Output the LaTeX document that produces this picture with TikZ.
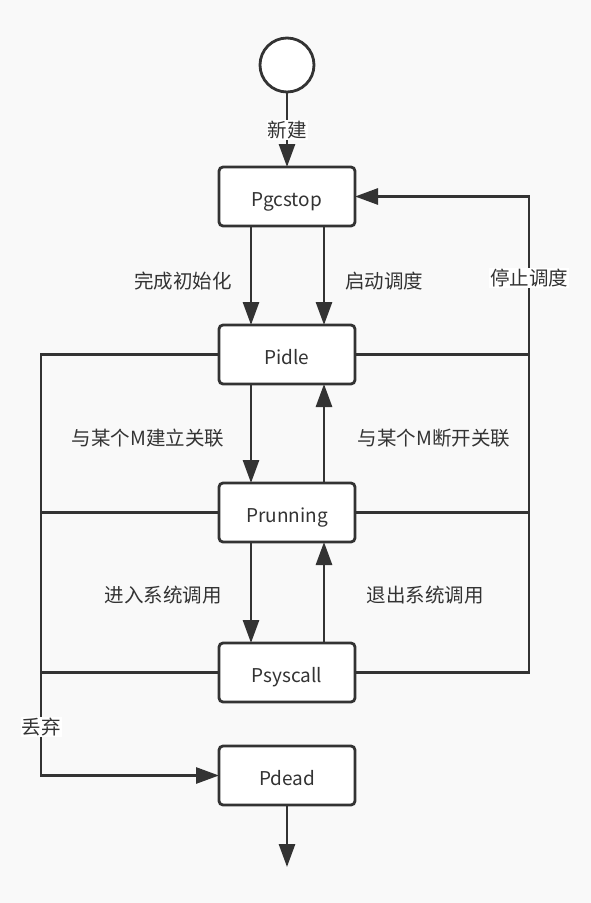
\documentclass[tikz,border=0pt]{standalone}
\usepackage{fontspec}
\setmainfont{Noto Sans CJK SC}
\usetikzlibrary{positioning,arrows.meta}
\definecolor{ink}{RGB}{51,51,51}
\definecolor{paper}{RGB}{249,249,249}
\tikzset{
  state/.style={draw=ink,line width=2.8pt,rounded corners=4pt,fill=white,outer sep=0pt,
    minimum width=136pt,minimum height=59pt,text height=20pt,text depth=0pt,
    text=ink,font=\fontsize{19}{21}\selectfont},
  tag/.style={text=ink,inner sep=1pt,font=\fontsize{19.5}{21}\selectfont},
  ontag/.style={tag,fill=white},
  wire/.style={draw=ink,line width=2.8pt},
  go/.style={wire,-{Triangle[length=23pt,width=16pt]}}
}
\begin{document}
\begin{tikzpicture}[x=1pt,y=-1pt]
  \fill[paper] (0,0) rectangle (591,903);
  \useasboundingbox (0,0) rectangle (591,903);

  \node[draw=ink,line width=2.8pt,circle,fill=white,outer sep=0pt,minimum size=54pt] (start) at (287,65) {};
  \node[state] (Pgcstop) at (287,196.5) {Pgcstop};
  \node[state,below=99pt of Pgcstop] (Pidle) {Pidle};
  \node[state,below=99pt of Pidle] (Prunning) {Prunning};
  \node[state,below=101pt of Prunning] (Psyscall) {Psyscall};
  \node[state,below=44pt of Psyscall] (Pdead) {Pdead};

  \coordinate (left) at (41,354);
  \coordinate (right) at (529,196.5);
  \coordinate (end) at (287,867);

  \draw[go] (start) -- (Pgcstop);
  \node[ontag] at (287,130) {新建};

  \draw[go] ([xshift=-36pt]Pgcstop.south) -- ([xshift=-36pt]Pidle.north);
  \draw[go] ([xshift=37pt]Pgcstop.south) -- ([xshift=37pt]Pidle.north);
  \draw[go] ([xshift=-36pt]Pidle.south) -- ([xshift=-36pt]Prunning.north);
  \draw[go] ([xshift=37pt]Prunning.north) -- ([xshift=37pt]Pidle.south);
  \draw[go] ([xshift=-36pt]Prunning.south) -- ([xshift=-36pt]Psyscall.north);
  \draw[go] ([xshift=37pt]Psyscall.north) -- ([xshift=37pt]Prunning.south);

  \draw[go] (Pidle.west) -- (Pidle.west -| left) -- (Pdead.west -| left) -- (Pdead.west);
  \draw[wire] (Prunning.west) -- (Prunning.west -| left);
  \draw[wire] (Psyscall.west) -- (Psyscall.west -| left);

  \draw[wire] (Pidle.east) -- (Pidle.east -| right);
  \draw[wire] (Prunning.east) -- (Prunning.east -| right);
  \draw[go] (Psyscall.east) -- (Psyscall.east -| right) -- (right) -- (Pgcstop.east);

  \draw[go] (Pdead) -- (end);

  \node[tag] at (183,281) {完成初始化};
  \node[tag] at (384,281) {启动调度};
  \node[ontag] at (529,278) {停止调度};
  \node[tag] at (148,438) {与某个M建立关联};
  \node[tag] at (434,438) {与某个M断开关联};
  \node[tag] at (163,595) {进入系统调用};
  \node[tag] at (425,595) {退出系统调用};
  \node[ontag] at (41,727) {丢弃};
\end{tikzpicture}
\end{document}
